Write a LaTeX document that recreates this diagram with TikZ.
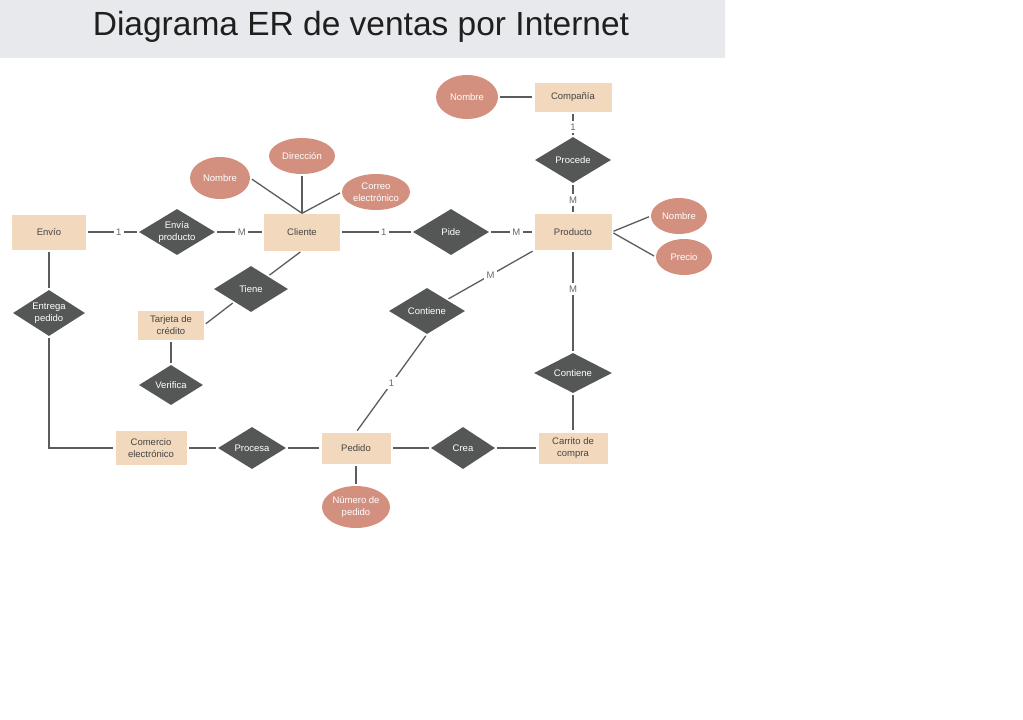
\documentclass[tikz,border=0pt]{standalone}
\usepackage{fontspec}
\setmainfont{Liberation Sans}
\usetikzlibrary{shapes.geometric}
\definecolor{entfill}{HTML}{F2D8BC}
\definecolor{attfill}{HTML}{D4907F}
\definecolor{relfill}{HTML}{555756}
\definecolor{linec}{HTML}{5C5C5C}
\definecolor{titlebg}{HTML}{E8E9ED}
\definecolor{enttext}{HTML}{454545}
\definecolor{lbltext}{HTML}{6A6A6A}
\begin{document}
\begin{tikzpicture}[x=1pt,y=-1pt,
  txt/.style={font=\fontsize{9.5}{11.5}\selectfont, align=center},
  entity/.style={rectangle, fill=entfill, text=enttext, txt, inner sep=0pt, minimum width=#1},
  entity/.default=74pt,
  rel/.style={diamond, fill=relfill, inner sep=0pt},
  att/.style={ellipse, fill=attfill, inner sep=0pt},
  wt/.style={text=white, txt},
  conn/.style={draw=linec, line width=1.3pt, shorten <=2pt, shorten >=2pt},
  lbl/.style={fill=white, text=lbltext, font=\fontsize{9.5}{10}\selectfont, inner sep=2.5pt}
]
\useasboundingbox (0,0) rectangle (1023,720);
\fill[titlebg] (0,0) rectangle (725,58);
\node[anchor=base, font=\fontsize{33.5}{38}\selectfont, text=black!88] (title) at (361,35) {Diagrama ER de ventas por Internet};

% entities
\node[entity=74pt, minimum height=35pt] (envio) at (49,232) {Envío};
\node[entity=76pt, minimum height=37pt] (cliente) at (302,232) {Cliente};
\node[entity=77pt, minimum height=36pt] (producto) at (573,232) {Producto};
\node[entity=77pt, minimum height=29pt] (compania) at (573,97) {Compañía};
\node[entity=66pt, minimum height=29pt] (tarjeta) at (171,325) {Tarjeta de\\crédito};
\node[entity=71pt, minimum height=34pt] (comercio) at (151,448) {Comercio\\electrónico};
\node[entity=69pt, minimum height=31pt] (pedido) at (356,448) {Pedido};
\node[entity=69pt, minimum height=31pt] (carrito) at (573,448) {Carrito de\\compra};

% relationships
\node[rel, minimum width=76pt, minimum height=46pt, label={[wt]center:Envía\\producto}] (envia) at (177,232) {};
\node[rel, minimum width=76pt, minimum height=46pt, label={[wt]center:Pide}] (pide) at (451,232) {};
\node[rel, minimum width=76pt, minimum height=46pt, label={[wt]center:Procede}] (procede) at (573,160) {};
\node[rel, minimum width=74pt, minimum height=46pt, label={[wt]center:Tiene}] (tiene) at (251,289) {};
\node[rel, minimum width=64pt, minimum height=40pt, label={[wt]center:Verifica}] (verifica) at (171,385) {};
\node[rel, minimum width=72pt, minimum height=46pt, label={[wt]center:Entrega\\pedido}] (entrega) at (49,313) {};
\node[rel, minimum width=76pt, minimum height=46pt, label={[wt]center:Contiene}] (contl) at (427,311) {};
\node[rel, minimum width=78pt, minimum height=40pt, label={[wt]center:Contiene}] (contr) at (573,373) {};
\node[rel, minimum width=68pt, minimum height=42pt, label={[wt]center:Procesa}] (procesa) at (252,448) {};
\node[rel, minimum width=64pt, minimum height=42pt, label={[wt]center:Crea}] (crea) at (463,448) {};

% attributes
\node[att, minimum width=60pt, minimum height=42pt, label={[wt]center:Nombre}] (cnombre) at (220,178) {};
\node[att, minimum width=66pt, minimum height=36pt, label={[wt]center:Dirección}] (direccion) at (302,156) {};
\node[att, minimum width=68pt, minimum height=36pt, label={[wt]center:Correo\\electrónico}] (correo) at (376,192) {};
\node[att, minimum width=62pt, minimum height=44pt, label={[wt]center:Nombre}] (conombre) at (467,97) {};
\node[att, minimum width=56pt, minimum height=36pt, label={[wt]center:Nombre}] (pnombre) at (679,216) {};
\node[att, minimum width=56pt, minimum height=36pt, label={[wt]center:Precio}] (precio) at (684,257) {};
\node[att, minimum width=68pt, minimum height=42pt, label={[wt]center:Número de\\pedido}] (numero) at (356,507) {};

% connectors
\draw[conn] (envio) -- node[lbl, pos=0.62] {1} (envia);
\draw[conn] (envia) -- node[lbl, pos=0.55] {M} (cliente);
\draw[conn] (cliente) -- node[lbl, pos=0.6] {1} (pide);
\draw[conn] (pide) -- node[lbl, pos=0.6] {M} (producto);
\draw[conn] (compania) -- node[lbl, pos=0.6] {1} (procede);
\draw[conn] (procede) -- node[lbl, pos=0.55] {M} (producto);
\draw[conn] (conombre) -- (compania);
\draw[conn, shorten >=0pt] (cnombre.east) -- (cliente.north);
\draw[conn, shorten >=0pt] (direccion) -- (cliente.north);
\draw[conn, shorten >=0pt] (correo.west) -- (cliente.north);
\draw[conn] (producto.east) -- (pnombre.west);
\draw[conn] (producto.east) -- (precio.west);
\draw[conn] (producto.south west) -- node[lbl, pos=0.5] {M} (contl);
\draw[conn] (contl.south) -- node[lbl, pos=0.5] {1} (pedido.north);
\draw[conn] (producto) -- node[lbl, pos=0.38] {M} (contr);
\draw[conn] (contr) -- (carrito);
\draw[conn] (carrito) -- (crea);
\draw[conn] (crea) -- (pedido);
\draw[conn] (pedido) -- (procesa);
\draw[conn] (procesa) -- (comercio);
\draw[conn] (pedido) -- (numero);
\draw[conn] (cliente.south) -- (tiene);
\draw[conn] (tiene) -- (tarjeta.east);
\draw[conn] (tarjeta) -- (verifica);
\draw[conn] (envio) -- (entrega);
\draw[conn] (entrega.south) |- (comercio.west);
\end{tikzpicture}
\end{document}
